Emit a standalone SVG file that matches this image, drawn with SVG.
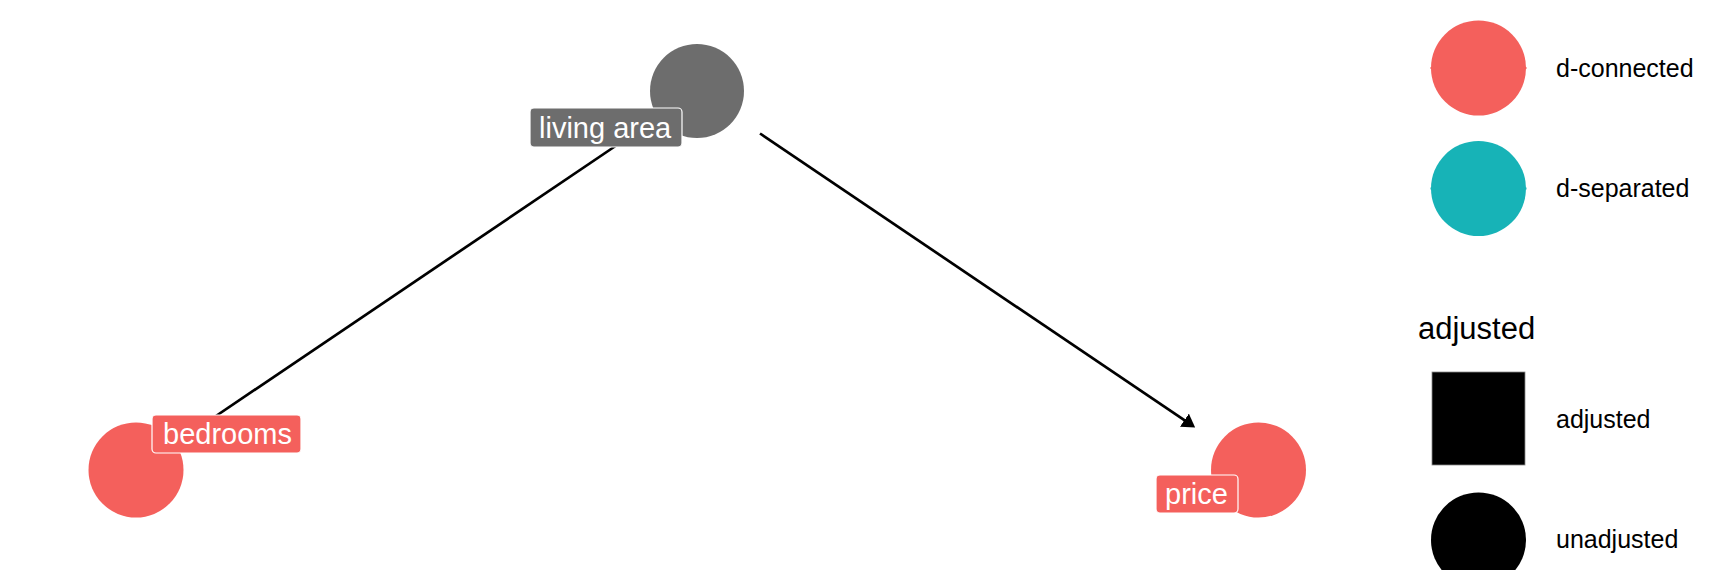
<svg xmlns="http://www.w3.org/2000/svg" width="1728" height="570" viewBox="0 0 1728 570">
  <defs>
    <marker id="arrow" viewBox="0 0 13 16" refX="8" refY="8" markerWidth="13" markerHeight="16" markerUnits="userSpaceOnUse" orient="auto">
      <path d="M0,0 L13,8 L0,16 Z" fill="#000"/>
    </marker>
    <style>
      .edge { stroke: #000; stroke-width: 2.7; fill: none; }
      .conn { fill: #F4605C; }
      .sep { fill: #17B3B7; }
      .gray { fill: #6D6D6D; }
      .lbl { stroke: #fff; stroke-width: 1.2; }
      .lbltxt { font-family: "Liberation Sans", Arial, sans-serif; font-size: 29px; fill: #fff; }
      .legtxt { font-family: "Liberation Sans", Arial, sans-serif; font-size: 25px; fill: #000; }
      .legtitle { font-family: "Liberation Sans", Arial, sans-serif; font-size: 31px; fill: #000; }
    </style>
  </defs>
  <rect x="0" y="0" width="1728" height="570" fill="#fff"/>

  <g id="connectors">
    <line class="edge" x1="634" y1="133.5" x2="199" y2="427.5"/>
    <line class="edge" x1="760" y1="133.5" x2="1191" y2="424.7" marker-end="url(#arrow)"/>
  </g>

  <g id="node-living-area">
    <circle class="gray" cx="697" cy="91" r="47"/>
    <rect class="gray lbl" x="530" y="108" width="152" height="39" rx="4"/>
    <text class="lbltxt" x="539" y="138">living area</text>
  </g>

  <g id="node-bedrooms">
    <circle class="conn" cx="136" cy="470" r="47.5"/>
    <rect class="conn lbl" x="152" y="415" width="149" height="38" rx="4"/>
    <text class="lbltxt" x="163" y="444">bedrooms</text>
  </g>

  <g id="node-price">
    <circle class="conn" cx="1258.5" cy="470" r="47.5"/>
    <rect class="conn lbl" x="1156" y="475" width="82" height="38" rx="4"/>
    <text class="lbltxt" x="1165" y="504">price</text>
  </g>

  <g id="legend">
    <line x1="1430.5" y1="68" x2="1526.5" y2="68" stroke="#F4605C" stroke-width="2"/>
    <circle class="conn" cx="1478.5" cy="68" r="47.5"/>
    <text class="legtxt" x="1556" y="77">d-connected</text>

    <line x1="1430.5" y1="188.5" x2="1526.5" y2="188.5" stroke="#17B3B7" stroke-width="2"/>
    <circle class="sep" cx="1478.5" cy="188.5" r="47.5"/>
    <text class="legtxt" x="1556" y="197">d-separated</text>

    <text class="legtitle" x="1418" y="339">adjusted</text>

    <rect x="1432" y="372" width="93" height="93" fill="#000" stroke="#888" stroke-width="0.8"/>
    <text class="legtxt" x="1556" y="428">adjusted</text>

    <circle cx="1478.5" cy="540" r="47.5" fill="#000"/>
    <text class="legtxt" x="1556" y="548">unadjusted</text>
  </g>
</svg>
